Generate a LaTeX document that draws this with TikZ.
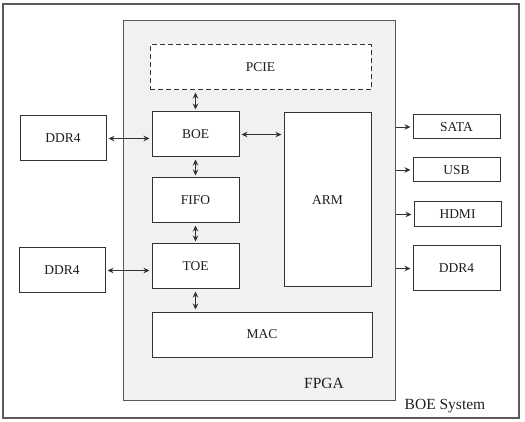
\documentclass[tikz,border=0pt]{standalone}
\usepackage{fontspec}
\setmainfont{Liberation Serif}
\usepackage{xcolor}
\usepackage{tikz}
\usetikzlibrary{positioning,arrows.meta}
\definecolor{sysLine}{HTML}{5A5A5A}
\definecolor{blkLine}{HTML}{333333}
\definecolor{fpgaFill}{HTML}{F1F1F1}
\definecolor{txtDark}{HTML}{1E1E1E}
\newcommand{\lbl}{\fontsize{13.5}{15}\selectfont}

\begin{document}
\begin{tikzpicture}[x=1pt,y=-1pt,
    blk/.style={draw=blkLine,line width=1pt,fill=white,inner sep=0pt,text=txtDark,font=\lbl},
    both/.style={{Stealth[length=6pt,width=5.5pt]}-{Stealth[length=6pt,width=5.5pt]},line width=0.9pt,blkLine,shorten <=2pt,shorten >=2pt},
    outlink/.style={-{Stealth[length=6pt,width=5.5pt]},line width=0.9pt,blkLine,shorten >=2pt}]
      \useasboundingbox (0,0) rectangle (525,422);
      % system and fpga frames
      \node[draw=sysLine,line width=1.3pt,minimum width=516pt,minimum height=414pt,inner sep=0pt] (system) at (261,211) {};
      \node[draw=sysLine,line width=1pt,fill=fpgaFill,minimum width=272pt,minimum height=379pt,inner sep=0pt] (fpga) at (259,210.5) {};
      \node[font=\fontsize{15.5}{18}\selectfont,text=txtDark] at (324,383) {FPGA};
      \node[font=\fontsize{15.5}{18}\selectfont,text=txtDark] at (445,406) {BOE System};

      % blocks inside the fpga
      \node[blk,dash pattern=on 5pt off 3pt,minimum width=221pt,minimum height=45pt] (pcie) at (260.5,67.5) {PCIE};
      \node[blk,minimum width=87pt,minimum height=45pt] (boe) at (195.5,134.5) {BOE};
      \node[blk,minimum width=87pt,minimum height=45pt,below=20pt of boe] (fifo) {FIFO};
      \node[blk,minimum width=87pt,minimum height=45pt,below=20pt of fifo] (toe) {TOE};
      \node[blk,minimum width=220pt,minimum height=45pt,below=22pt of toe.south west,anchor=north west] (mac) {MAC};
      \node[blk,minimum width=87pt,minimum height=174pt] (arm) at (327.5,200) {ARM};

      % memories on the left
      \node[blk,minimum width=86pt,minimum height=45pt] (ddrA) at (63,138.5) {DDR4};
      \node[blk,minimum width=86pt,minimum height=45pt] (ddrB) at (62,270.5) {DDR4};

      % peripherals on the right
      \node[blk,minimum width=87pt,minimum height=24pt] (sata) at (456.5,127) {SATA};
      \node[blk,minimum width=87pt,minimum height=24pt] (usb) at (456.5,170) {USB};
      \node[blk,minimum width=87pt,minimum height=25pt] (hdmi) at (457.5,214.5) {HDMI};
      \node[blk,minimum width=87pt,minimum height=45pt] (ddrC) at (456.5,268.5) {DDR4};

      \draw[both] (pcie.south -| boe) -- (boe.north);
      \draw[both] (boe) -- (fifo);
      \draw[both] (fifo) -- (toe);
      \draw[both] (toe.south) -- (mac.north -| toe);
      \draw[both] (boe.east) -- (arm.west |- boe.east);
      \draw[both] (ddrA.east) -- (boe.west |- ddrA.east);
      \draw[both] (ddrB.east) -- (toe.west |- ddrB.east);

      \draw[outlink] (fpga.east |- sata) -- (sata.west);
      \draw[outlink] (fpga.east |- usb) -- (usb.west);
      \draw[outlink] (fpga.east |- hdmi) -- (hdmi.west);
      \draw[outlink] (fpga.east |- ddrC) -- (ddrC.west);
    \end{tikzpicture}
\end{document}
